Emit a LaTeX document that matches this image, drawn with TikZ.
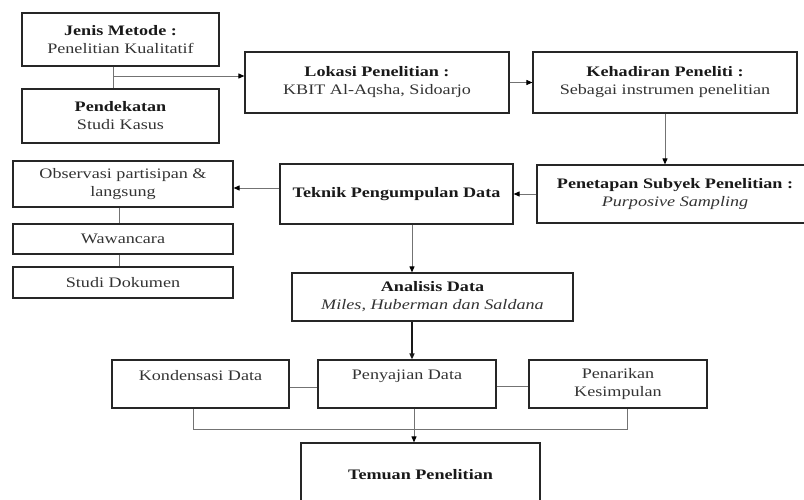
\documentclass[tikz,border=0pt]{standalone}
\usepackage{fontspec}
\setmainfont{Liberation Serif}[FakeStretch=1.25]
\usetikzlibrary{arrows.meta}
\begin{document}
\begin{tikzpicture}[x=1pt,y=-1pt,
  box/.style={draw=black!85, line width=1.2pt, inner sep=0pt, align=center,
    font=\fontsize{14.5}{18}\selectfont, text=black!80},
  link/.style={draw=black!55, line width=0.9pt},
  arr/.style={link, -{Triangle[length=6pt,width=5pt,color=black]}},
  tarr/.style={draw=black!90, line width=1.3pt, -{Triangle[length=6pt,width=5pt]}}]
\useasboundingbox (0,0) rectangle (804,500);
\clip (0,0) rectangle (804,500);
\newcommand{\ttl}[1]{\textcolor{black!90}{\textbf{#1}}}
% boxes
\node[box, minimum width=197pt, minimum height=53pt] (jm) at (120.5,39.5) {\ttl{Jenis Metode :}\\Penelitian Kualitatif};
\node[box, minimum width=197pt, minimum height=54pt] (pd) at (120.5,116) {\ttl{Pendekatan}\\Studi Kasus};
\node[box, minimum width=264pt, minimum height=61pt] (lok) at (377,82.5) {\ttl{Lokasi Penelitian :}\\KBIT Al-Aqsha, Sidoarjo};
\node[box, minimum width=264pt, minimum height=61pt] (keh) at (665,82.5) {\ttl{Kehadiran Peneliti :}\\Sebagai instrumen penelitian};
\node[box, minimum width=276pt, minimum height=58pt] (pen) at (675,194) {\ttl{Penetapan Subyek Penelitian :}\\\textit{Purposive Sampling}};
\node[box, minimum width=233pt, minimum height=60pt] (tek) at (396.5,194) {\ttl{Teknik Pengumpulan Data}};
\node[box, minimum width=220pt, minimum height=46pt] (obs) at (123,184) {Observasi partisipan \&\\langsung};
\node[box, minimum width=220pt, minimum height=30pt] (waw) at (123,239) {Wawancara};
\node[box, minimum width=220pt, minimum height=31pt] (sd) at (123,282.5) {Studi Dokumen};
\node[box, minimum width=281pt, minimum height=48pt] (ana) at (432.5,297) {\ttl{Analisis Data}\\\textit{Miles, Huberman dan Saldana}};
\node[box, minimum width=177pt, minimum height=48pt] (kon) at (200.5,384) {Kondensasi Data\\\mbox{}};
\node[box, minimum width=178pt, minimum height=48pt] (pny) at (407,384) {Penyajian Data\\\mbox{}};
\node[box, minimum width=178pt, minimum height=48pt] (pnk) at (618,384) {Penarikan\\Kesimpulan};
\node[box, minimum width=239pt, minimum height=64pt] (tem) at (420.5,475) {\ttl{Temuan Penelitian}};
% helper coordinates
\coordinate (c1) at (113,76);
\coordinate (cx) at (412,0);
\coordinate (cl) at (119,0);
\coordinate (cb) at (0,429);
% connectors
\draw[link] (jm.south -| c1) -- (pd.north -| c1);
\draw[arr] (c1) -- (c1 -| lok.west);
\draw[arr] (lok.east) -- (keh.west);
\draw[arr] (keh.south) -- (keh.south |- pen.north);
\draw[arr] (pen.west) -- (tek.east);
\draw[arr] ([yshift=6pt]tek.west) -- ([yshift=6pt]tek.west -| obs.east);
\draw[link] (obs.south -| cl) -- (waw.north -| cl);
\draw[link] (waw.south -| cl) -- (sd.north -| cl);
\draw[arr] (tek.south -| cx) -- (ana.north -| cx);
\draw[tarr] (ana.south -| cx) -- (pny.north -| cx);
\draw[link] ([yshift=-3pt]kon.east) -- ([yshift=-3pt]pny.west);
\draw[link] ([yshift=-2pt]pny.east) -- ([yshift=-2pt]pnk.west);
\draw[link] ([xshift=-7.5pt]kon.south) -- ([xshift=-7.5pt]kon.south |- cb) -- ([xshift=9pt]pnk.south |- cb) -- ([xshift=9pt]pnk.south);
\draw[arr] ([xshift=7pt]pny.south) -- ([xshift=7pt]pny.south |- tem.north);
\end{tikzpicture}
\end{document}
